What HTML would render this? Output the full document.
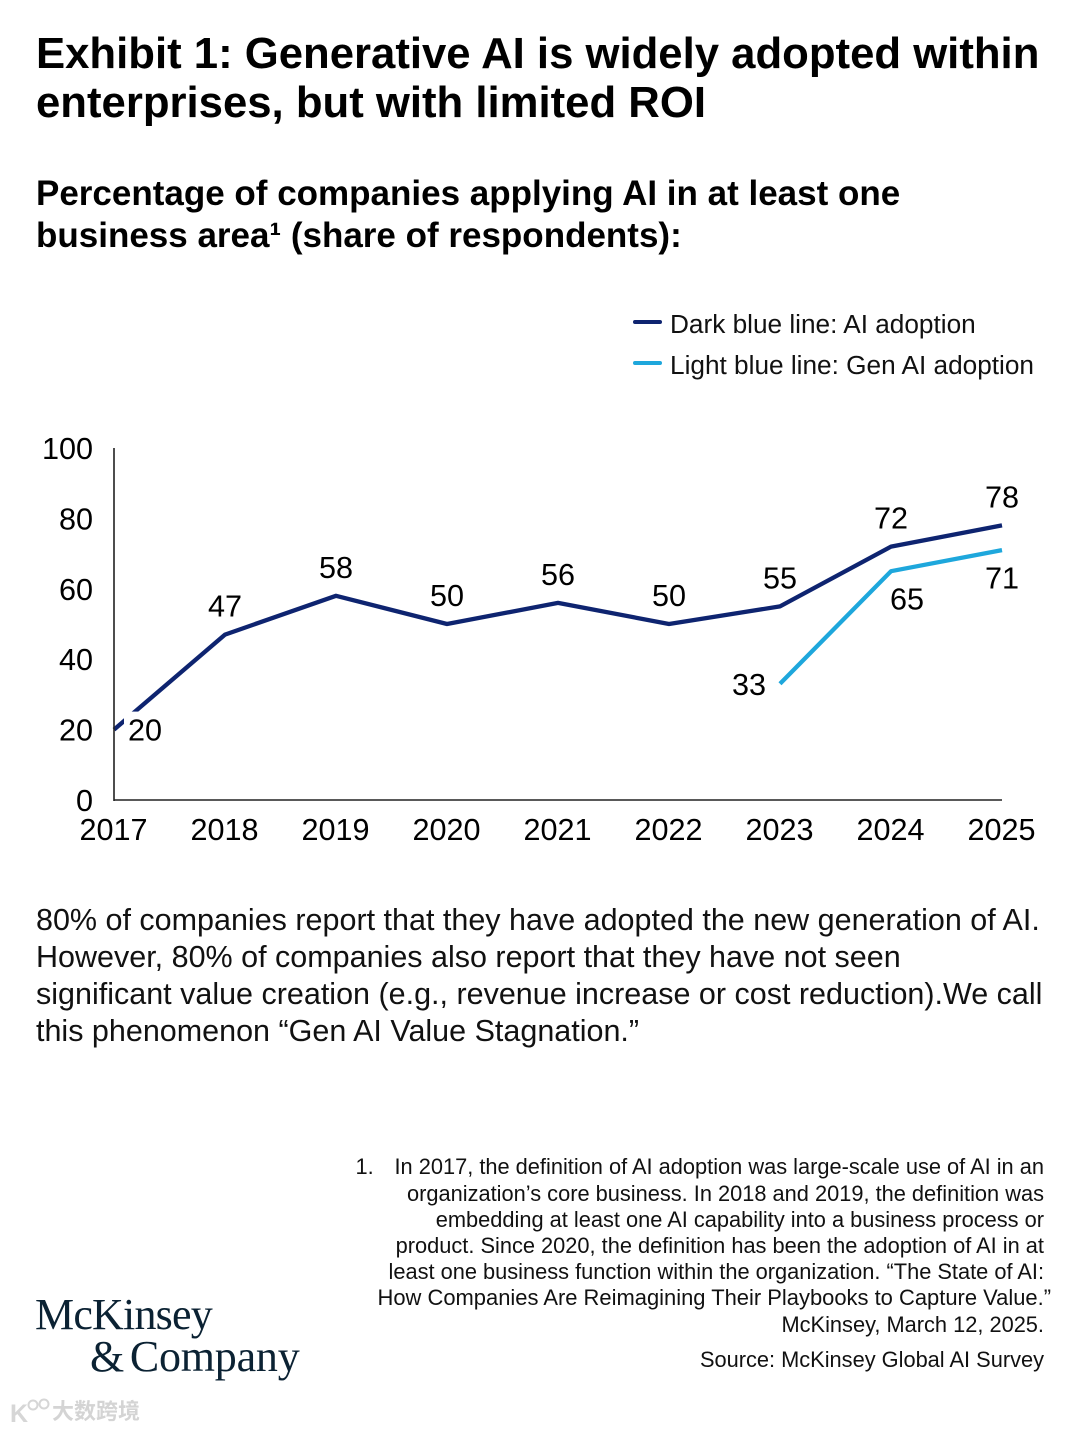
<!DOCTYPE html>
<html lang="en">
<head>
<meta charset="utf-8">
<title>Exhibit 1</title>
<style>
html,body{margin:0;padding:0;background:#fff}
#page{position:relative;width:1080px;height:1432px;overflow:hidden;background:#fff;font-family:"Liberation Sans",sans-serif;color:#000}
.l{position:absolute;white-space:nowrap;margin:0;font-weight:normal}
.t{font-weight:bold;font-size:43.7px;line-height:48px;left:36px}
.s{font-weight:bold;font-size:35px;line-height:42px;left:36px}
.b{font-size:30.5px;line-height:37px;left:36px;color:#111}
.f{font-size:21.8px;line-height:26px;right:36px;color:#111}
.lg{font-size:26.2px;line-height:32px;left:670px;color:#111}
.logo{font-family:"Liberation Serif",serif;font-size:44px;line-height:50px;color:#0b2233}
#chart{position:absolute;left:0;top:0}
#chart text{font-family:"Liberation Sans",sans-serif;font-size:30.6px;fill:#000}
</style>
</head>
<body>
<div id="page">
<h1 class="l t" style="top:30px">Exhibit 1: Generative AI is widely adopted within</h1>
<h1 class="l t" style="top:79px">enterprises, but with limited ROI</h1>
<h2 class="l s" style="top:173px">Percentage of companies applying AI in at least one</h2>
<h2 class="l s" style="top:215px">business area¹ (share of respondents):</h2>

<div class="l lg" style="top:308px">Dark blue line: AI adoption</div>
<div class="l lg" style="top:349px">Light blue line: Gen AI adoption</div>

<svg id="chart" width="1080" height="860" viewBox="0 0 1080 860">
  <line x1="635" y1="322" x2="660" y2="322" stroke="#0e2470" stroke-width="4" stroke-linecap="round"/>
  <line x1="635" y1="363" x2="660" y2="363" stroke="#1ea7dc" stroke-width="4" stroke-linecap="round"/>
  <g id="marks"></g>
</svg>

<p class="l b" style="top:902px">80% of companies report that they have adopted the new generation of AI.</p>
<p class="l b" style="top:939px">However, 80% of companies also report that they have not seen</p>
<p class="l b" style="top:976px">significant value creation (e.g., revenue increase or cost reduction).We call</p>
<p class="l b" style="top:1013px">this phenomenon “Gen AI Value Stagnation.”</p>

<div class="l f" style="top:1154px"><span style="display:inline-block;width:39px">1.</span>In 2017, the definition of AI adoption was large-scale use of AI in an</div>
<div class="l f" style="top:1181px">organization’s core business. In 2018 and 2019, the definition was</div>
<div class="l f" style="top:1207px">embedding at least one AI capability into a business process or</div>
<div class="l f" style="top:1233px">product. Since 2020, the definition has been the adoption of AI in at</div>
<div class="l f" style="top:1259px">least one business function within the organization. “The State of AI:</div>
<div class="l f" style="top:1285px;right:29px;font-size:21.95px">How Companies Are Reimagining Their Playbooks to Capture Value.”</div>
<div class="l f" style="top:1312px">McKinsey, March 12, 2025.</div>
<div class="l f" style="top:1347px">Source: McKinsey Global AI Survey</div>

<div class="l logo" style="left:35px;top:1290px;letter-spacing:-0.8px">McKinsey</div>
<div class="l logo" style="left:90px;top:1332px;letter-spacing:-0.2px;word-spacing:-5px">&amp; Company</div>

<svg class="l" style="left:8px;top:1394px" width="44" height="34" viewBox="0 0 44 34">
  <text x="2" y="28" font-family="Liberation Sans, sans-serif" font-size="25" font-weight="bold" fill="#d6d6d6">K</text>
  <circle cx="25" cy="11" r="4.5" fill="none" stroke="#d6d6d6" stroke-width="2"/>
  <circle cx="36" cy="10" r="4.5" fill="none" stroke="#d6d6d6" stroke-width="2"/>
</svg>
<div class="l" style="left:52px;top:1399px;font-family:'Liberation Sans','Noto Sans CJK SC',sans-serif;font-size:22px;line-height:26px;font-weight:bold;color:#d4d4d4">大数跨境</div>
</div>

<script>
const years = [2017, 2018, 2019, 2020, 2021, 2022, 2023, 2024, 2025];
const yTicks = [0, 20, 40, 60, 80, 100];
const aiAdoption = [20, 47, 58, 50, 56, 50, 55, 72, 78];
const genAiAdoption = [null, null, null, null, null, null, 33, 65, 71];

const NS = 'http://www.w3.org/2000/svg';
const marks = document.getElementById('marks');
const X0 = 114, X1 = 1002, Y0 = 800, Y1 = 448;
function xAt(i) { return X0 + (X1 - X0) * i / (years.length - 1); }
function yAt(v) { return Y0 - (Y0 - Y1) * v / 100; }
function svgEl(tag, attrs) {
  const el = document.createElementNS(NS, tag);
  for (const k in attrs) el.setAttribute(k, attrs[k]);
  marks.appendChild(el);
  return el;
}
function label(txt, x, y, anchor) {
  const t = svgEl('text', { x: x, y: y, 'text-anchor': anchor });
  t.textContent = txt;
  return t;
}
function linePath(values) {
  const pts = [];
  values.forEach(function (v, i) {
    if (v !== null) pts.push(xAt(i).toFixed(1) + ',' + yAt(v).toFixed(1));
  });
  return pts.join(' ');
}

const aiLine = svgEl('polyline', { points: linePath(aiAdoption), fill: 'none', stroke: '#0e2470', 'stroke-width': 4.3, 'stroke-linejoin': 'round' });



const genLine = svgEl('polyline', { points: linePath(genAiAdoption), fill: 'none', stroke: '#1ea7dc', 'stroke-width': 4.3, 'stroke-linejoin': 'round' });



const yAxis = svgEl('line', { x1: X0, y1: Y1, x2: X0, y2: Y0 + 1, stroke: '#222', 'stroke-width': 1.6 });



const xAxis = svgEl('line', { x1: X0, y1: Y0, x2: X1, y2: Y0, stroke: '#222', 'stroke-width': 1.6 });



yTicks.forEach(function (v) {
  const t = label(String(v), 93, yAt(v) + 11, 'end');
  
  
});

years.forEach(function (yr, i) {
  const t = label(String(yr), xAt(i) - 0.5, 840, 'middle');
  
  
});

aiAdoption.forEach(function (v, i) {
  if (i === 0) {
    const halo = svgEl('rect', { x: xAt(i) + 10, y: yAt(v) - 18, width: 42, height: 36, fill: '#fff' });
    
    
    const first = label(String(v), xAt(i) + 31, yAt(v) + 11, 'middle');
    
    
    return;
  }
  const t = label(String(v), xAt(i), yAt(v) - 18, 'middle');
  
  
});

genAiAdoption.forEach(function (v, i) {
  if (v === null) return;
  const first = i === 6;
  const t = label(String(v), first ? xAt(i) - 31 : xAt(i) + (i === 7 ? 16 : 0), first ? yAt(v) + 11 : yAt(v) + 38.5, 'middle');
  
  
});
</script>
</body>
</html>
